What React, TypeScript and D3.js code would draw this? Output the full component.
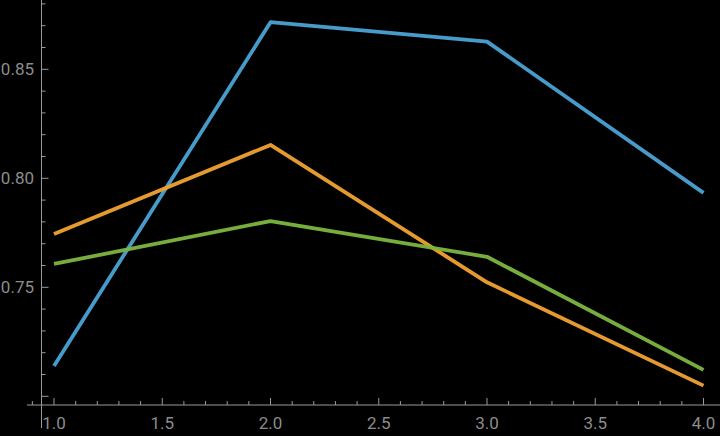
import * as d3 from 'd3';

const xValues = [1, 2, 3, 4];
const blueSeries = [0.7139, 0.8716, 0.8627, 0.7933];
const orangeSeries = [0.7744, 0.8153, 0.7523, 0.7049];
const greenSeries = [0.7607, 0.7804, 0.764, 0.7121];

const xTickLabels = ['1.0', '1.5', '2.0', '2.5', '3.0', '3.5', '4.0'];
const yTickLabels = ['0.75', '0.80', '0.85'];

const series = [
  { name: 'blue', values: blueSeries, color: '#4ba3d6' },
  { name: 'orange', values: orangeSeries, color: '#f0a232' },
  { name: 'green', values: greenSeries, color: '#7db640' },
];

const width = 720;
const height = 436;
const axisColor = '#9a9a9a';
const labelColor = '#8c8c8c';

export default function App() {
  const x = d3.scaleLinear().domain([1, 4]).range([54, 703.5]);
  const y = d3.scaleLinear().domain([0.7, 0.85]).range([396.3, 69.3]);
  const axisY = 405;
  const axisX = 41.5;

  // minor ticks every 0.1 on x, every 0.01 on y
  const xMinor = d3.range(9, 42).map((v) => v / 10);
  const yMinor = d3.range(70, 89).map((v) => v / 100);

  const line = d3
    .line<number>()
    .x((_, i) => x(xValues[i]))
    .y((d) => y(d));

  return (
    <svg
      width={width}
      height={height}
      style={{ position: 'fixed', top: 0, left: 0, background: '#000', display: 'block' }}
    >
      <rect width={width} height={height} fill="#000" />

      {series.map((s) => (
        <path
          key={s.name}
          d={line(s.values) ?? ''}
          fill="none"
          stroke={s.color}
          strokeWidth={3.8}
          strokeOpacity={0.95}
          strokeLinejoin="round"
        />
      ))}

      <g stroke={axisColor} strokeWidth={1}>
        <line x1={27} x2={width} y1={axisY} y2={axisY} />
        <line x1={axisX} x2={axisX} y1={0} y2={428} />
        {xMinor.map((v) => {
          const major = Math.round(v * 10) % 5 === 0;
          return (
            <line
              key={`xt${v}`}
              x1={x(v)}
              x2={x(v)}
              y1={axisY}
              y2={axisY - (major ? 7 : 4)}
            />
          );
        })}
        {yMinor.map((v) => {
          const major = Math.round(v * 100) % 5 === 0;
          return (
            <line
              key={`yt${v}`}
              x1={axisX}
              x2={axisX + (major ? 7 : 4)}
              y1={y(v)}
              y2={y(v)}
            />
          );
        })}
      </g>

      <g fill={labelColor} fontFamily="Roboto, 'Noto Sans', sans-serif" fontSize={17}>
        {xTickLabels.map((label) => (
          <text key={label} x={x(+label)} y={429} textAnchor="middle">
            {label}
          </text>
        ))}
        {yTickLabels.map((label) => (
          <text key={label} x={34} y={y(+label)} textAnchor="end" dominantBaseline="central">
            {label}
          </text>
        ))}
      </g>
    </svg>
  );
}
